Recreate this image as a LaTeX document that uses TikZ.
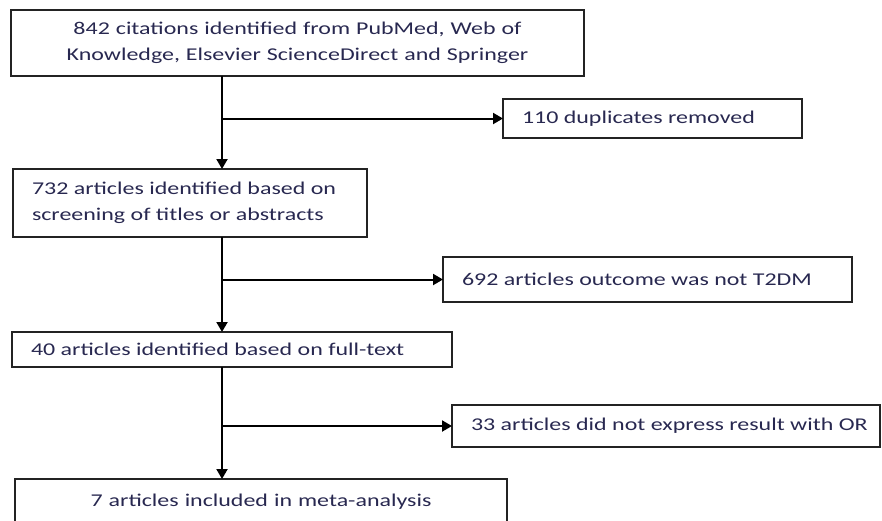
\documentclass[tikz,border=0pt]{standalone}
\usepackage{fontspec}
\setmainfont{Carlito}[FakeStretch=1.33]
\usetikzlibrary{arrows.meta}
\usetikzlibrary{calc}
\definecolor{boxline}{RGB}{35,35,35}
\definecolor{txtnavy}{RGB}{40,40,80}
\newcommand{\drawarrow}{\draw[-{Triangle[length=10pt,width=11pt]}]}

\begin{document}
\begin{tikzpicture}[x=1pt,y=-1pt,line width=2pt,
    box/.style={draw=boxline,rectangle,anchor=north west,inner xsep=19pt,inner ysep=0pt,
        outer sep=0pt,text=txtnavy,align=flush left,font=\fontsize{18}{26}\selectfont}]
    \useasboundingbox (0,0) rectangle (882,520);
    \clip (0,0) rectangle (882,520);

    % Draw boxes
    \node[box,text width=535pt,align=center,minimum height=66pt] (cite) at (11,10)
        {842 citations identified from PubMed, Web of\\Knowledge, Elsevier ScienceDirect and Springer};
    \node[box,text width=261pt,minimum height=39pt] (dup) at (503,99) {110 duplicates removed};
    \node[box,text width=316pt,minimum height=68pt] (screen) at (13,169)
        {732 articles identified based on\\screening of titles or abstracts};
    \node[box,text width=371pt,minimum height=45pt] (notdm) at (443,257) {692 articles outcome was not T2DM};
    \node[box,text width=402pt,minimum height=35pt] (full) at (12,332) {40 articles identified based on full-text};
    \node[box,text width=390pt,minimum height=42pt] (noor) at (452,405)
        {\mbox{33 articles did not express result with OR}};
    \node[box,text width=454pt,align=center,minimum height=46pt] (incl) at (15,479) {7 articles included in meta-analysis};

    % Draw main flow
    \coordinate (spine) at (222,0);
    \drawarrow (cite.south -| spine) -- (screen.north -| spine);
    \drawarrow (screen.south -| spine) -- (full.north -| spine);
    \drawarrow (full.south -| spine) -- (incl.north -| spine);

    % Draw exclusions
    \coordinate (b1) at (spine |- dup.west);
    \coordinate (b2) at (spine |- notdm.west);
    \coordinate (b3) at (spine |- noor.west);
    \drawarrow (b1) -- (dup.west);
    \drawarrow (b2) -- (notdm.west);
    \drawarrow (b3) -- (noor.west);
\end{tikzpicture}
\end{document}
